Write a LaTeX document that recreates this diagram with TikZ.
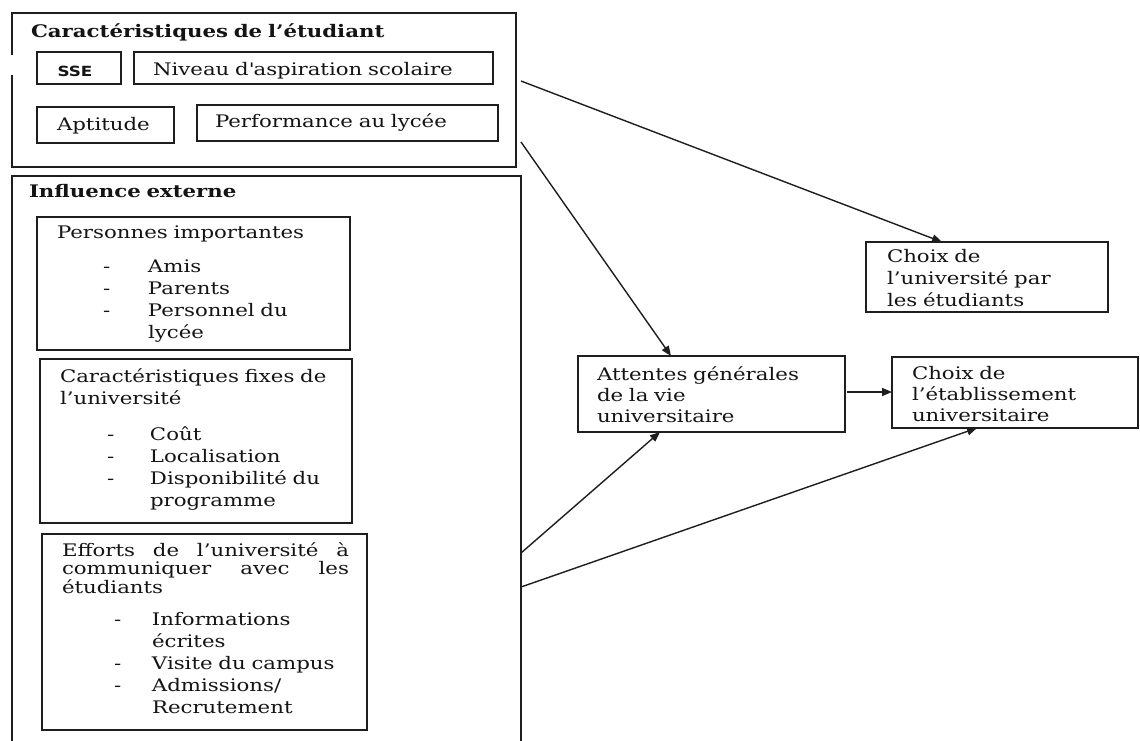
\documentclass[tikz,border=0pt]{standalone}
\usepackage{fontspec}
\setmainfont[FakeStretch=1.23]{DejaVu Serif}
\newfontfamily\ssefont[FakeStretch=1.2]{DejaVu Sans}
\usetikzlibrary{arrows.meta,calc}
\definecolor{ln}{HTML}{1E1E1E}
\definecolor{tx}{HTML}{141414}
\newcommand\bodyfont{\fontsize{17.3}{22}\selectfont}
\newcommand\itm[3]{\hspace*{#1}\makebox[#2][l]{-}#3}
\tikzset{
  boxst/.style={draw=ln, line width=1.8pt, rectangle, inner sep=0pt, outer sep=0pt, anchor=north west},
  txt/.style={anchor=base west, inner sep=0pt, outer sep=0pt, align=left, text width=#1, font=\bodyfont, text=tx},
  txt/.default=420pt,
  arr/.style={draw=ln, line width=1.4pt, -{Triangle[length=10pt,width=8pt]}}
}
\begin{document}
\begin{tikzpicture}[x=1pt,y=-1pt]
\clip (0,0) rectangle (1140,740);
\fill[white] (0,0) rectangle (1140,740);
% top box
\node[boxst, draw=none, minimum width=504pt, minimum height=154pt] (T) at (12,13) {};
\draw[ln, line width=1.8pt] ([yshift=-42pt]T.north west) -- (T.north west) -- (T.north east) -- (T.south east) -- (T.south west) -- ([yshift=92pt]T.south west);
\node[txt, font=\bodyfont\bfseries] (tT) at (31,37) {Caractéristiques de l’étudiant};
\node[boxst, minimum width=84pt, minimum height=32pt] (SSE) at (37,52) {};
\node[anchor=base, inner sep=0pt, text=tx, font=\ssefont\fontsize{14}{15}\selectfont\bfseries] (tSSE) at (75,76) {SSE};
\node[boxst, minimum width=359pt, minimum height=32pt] (N) at (134,52) {};
\node[txt] (tN) at (153,75) {Niveau d\textquotesingle aspiration scolaire};
\node[boxst, minimum width=137pt, minimum height=36pt] (Apt) at (37,107) {};
\node[txt] (tApt) at (57,130) {Aptitude};
\node[boxst, minimum width=301pt, minimum height=36pt] (Perf) at (197,105) {};
\node[txt] (tPerf) at (215,127) {Performance au lycée};
% influence externe
\node[boxst, minimum width=509pt, minimum height=600pt] (I) at (12,176) {};
\node[txt, font=\bodyfont\bfseries] (tI) at (29,197) {Influence externe};
\node[boxst, minimum width=313pt, minimum height=133pt] (P) at (37,217) {};
\node[txt=290pt] (tP) at (57,238) {Personnes importantes\\[12pt]
\itm{46pt}{45pt}{Amis}\\
\itm{46pt}{45pt}{Parents}\\
\itm{46pt}{45pt}{Personnel du}\\
\hspace*{91pt}lycée};
\node[boxst, minimum width=312pt, minimum height=164pt] (C) at (40,359) {};
\node[txt=290pt] (tC) at (60,382) {Caractéristiques fixes de\\
l’université\\[14pt]
\itm{47pt}{43pt}{Coût}\\
\itm{47pt}{43pt}{Localisation}\\
\itm{47pt}{43pt}{Disponibilité du}\\
\hspace*{90pt}programme};
\node[boxst, minimum width=325pt, minimum height=196pt] (E) at (42,534) {};
\node[txt=287pt, align=justify, font=\fontsize{17.3}{18.5}\selectfont] (tE) at (62,556) {Efforts de l’université à\linebreak communiquer avec les\linebreak étudiants};
\node[txt=300pt] (tE2) at (62,625) {\itm{52pt}{38pt}{Informations}\\
\hspace*{90pt}écrites\\
\itm{52pt}{38pt}{Visite du campus}\\
\itm{52pt}{38pt}{Admissions/}\\
\hspace*{90pt}Recrutement};
% right side
\node[boxst, minimum width=242pt, minimum height=70pt] (U) at (866,242) {};
\node[txt=215pt] (tU) at (887,262) {Choix de\\l’université par\\les étudiants};
\node[boxst, minimum width=267pt, minimum height=76pt] (A) at (578,356) {};
\node[txt=240pt, font=\fontsize{17.3}{21}\selectfont] (tA) at (597,380) {Attentes générales\\de la vie\\universitaire};
\node[boxst, minimum width=246pt, minimum height=71pt] (Est) at (892,357) {};
\node[txt=220pt, font=\fontsize{17.3}{21}\selectfont] (tEst) at (912,379) {Choix de\\l’établissement\\universitaire};
% connectors
\draw[arr] ([xshift=5pt,yshift=-68pt]T.north east) -- ([xshift=76pt]U.north west);
\draw[arr] ([xshift=5pt,yshift=-129pt]T.north east) -- ([xshift=93pt]A.north west);
\draw[arr] ([yshift=-377pt]I.north east) -- ([xshift=82pt]A.south west);
\draw[arr] ([yshift=-411pt]I.north east) -- ([xshift=85pt]Est.south west);
\draw[arr] ($(A.east)+(2,-2)$) -- ($(A.east -| Est.west)+(0,-2)$);
\end{tikzpicture}
\end{document}
